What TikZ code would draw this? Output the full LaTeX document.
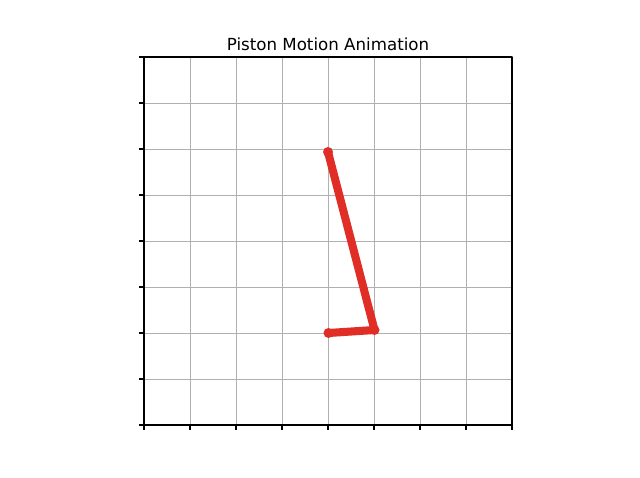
\documentclass[tikz,border=0pt]{standalone}
\usepackage{fontspec}
\setmainfont{DejaVu Sans}
\definecolor{pistonred}{RGB}{224,46,38}

\begin{document}
\begin{tikzpicture}[x=0.72pt,y=-0.72pt,line cap=butt,line join=round,
  gridline/.style={draw=black!31,line width=.7pt},
  spine/.style={draw=black,line width=.8pt,line cap=rect},
  tick/.style={draw=black,line width=.8pt},
  rod/.style={draw=pistonred,line width=5.8pt,line cap=round},
  joint/.style={circle,fill=pistonred,inner sep=0pt,minimum size=7.2pt}]
\useasboundingbox (0,0) rectangle (640,478);

\node[font=\fontsize{12}{14}\selectfont] (title) at (328,44) {Piston Motion Animation};

% Grid, spines and the unlabelled ticks.
\foreach \i in {1,...,7}
{
  \pgfmathsetmacro{\pp}{144+\i*46}
  \draw[gridline] (\pp,57)--(\pp,425);
  \pgfmathsetmacro{\qq}{57+\i*46}
  \draw[gridline] (144,\qq)--(512,\qq);
}
\foreach \i in {0,...,8}
{
  \pgfmathsetmacro{\pp}{144+\i*46}
  \draw[tick] (\pp,425)--(\pp,430);
  \pgfmathsetmacro{\qq}{57+\i*46}
  \draw[tick] (144,\qq)--(139,\qq);
}
\draw[spine] (144,57) rectangle (512,425);

% Crank and connecting rod.
\coordinate (crank) at (328.5,333);
\coordinate (pin) at (374.5,330);
\coordinate (piston) at (328,152);
\draw[rod] (crank)--(pin)--(piston);
\node[joint] (crankdot) at (crank) {};
\node[joint] (pindot) at (pin) {};
\node[joint] (pistondot) at (piston) {};
\end{tikzpicture}
\end{document}
